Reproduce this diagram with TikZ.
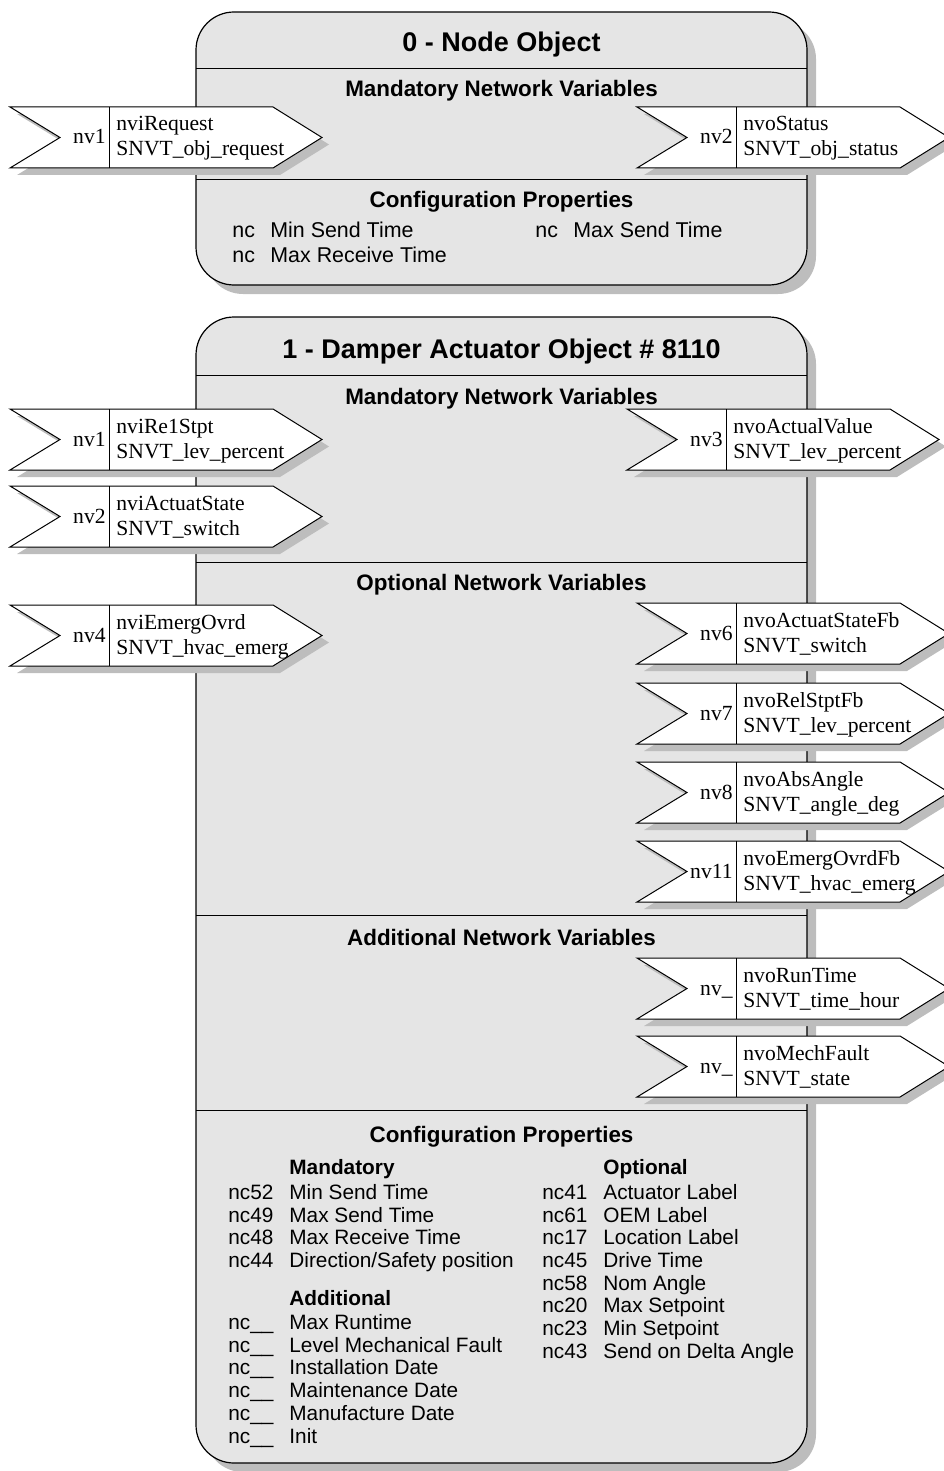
\documentclass[tikz,border=0pt]{standalone}
\usepackage{fontspec}
\setmainfont{Liberation Serif}
\setsansfont{Liberation Sans}
\definecolor{boxfill}{HTML}{E5E5E5}
\definecolor{shc}{HTML}{BDBDBD}
\tikzset{
  objbox/.style={draw=black, line width=0.6pt, fill=boxfill, rounded corners=19pt},
  objshadow/.style={fill=shc, rounded corners=19pt},
  sepline/.style={draw=black, line width=0.5pt},
  arrline/.style={draw=black, line width=0.5pt, fill=white},
  arrshadow/.style={fill=shc},
  nvlab/.style={anchor=base east, inner sep=0pt, font=\rmfamily\fontsize{10.8}{13}\selectfont},
  nvtxt/.style={anchor=base west, inner sep=0pt, font=\rmfamily\fontsize{10.8}{13}\selectfont},
  titletxt/.style={anchor=base, inner sep=0pt, font=\sffamily\bfseries\fontsize{13.5}{16}\selectfont},
  headtxt/.style={anchor=base, inner sep=0pt, font=\sffamily\bfseries\fontsize{11.2}{13}\selectfont},
  subhead/.style={anchor=base west, inner sep=0pt, font=\sffamily\bfseries\fontsize{10.4}{12}\selectfont},
  cptxt/.style={anchor=base west, inner sep=0pt, font=\sffamily\fontsize{10.4}{12}\selectfont},
  cptxtb/.style={anchor=base west, inner sep=0pt, font=\sffamily\fontsize{10.7}{12}\selectfont},
}
\newcommand{\nvarr}[6]{%
\begin{scope}[shift={(#2,#3)}]
 \fill[arrshadow] (7,7) -- (270,7) -- (319,37.5) -- (270,68) -- (7,68) -- (57,37.5) -- cycle;
 \draw[arrline] (0,0) -- (263,0) -- (312,30.5) -- (263,61) -- (0,61) -- (50,30.5) -- cycle;
 \draw[sepline] (99,0) -- (99,61);
 \node[nvlab] (#1-id) at (96,37) {#4};
 \node[nvtxt] (#1-n) at (106,24) {#5};
 \node[nvtxt] (#1-t) at (106,49) {#6};
\end{scope}}
\newcommand{\cprow}[6]{%
 \node[cptxt] (#1-nc) at (#2,#4) {#5};
 \node[cptxt] (#1-lb) at (#3,#4) {#6};}
\newcommand{\cprowb}[6]{%
 \node[cptxtb] (#1-nc) at (#2,#4) {#5};
 \node[cptxtb] (#1-lb) at (#3,#4) {#6};}
\begin{document}
\begin{tikzpicture}[x=0.5pt,y=-0.5pt]
\useasboundingbox (0,0) rectangle (943,1471);
% ---------------- Box 0 ----------------
\fill[objshadow] (205,21) rectangle (816,294);
\draw[objbox] (196,12) rectangle (807,285);
\draw[sepline] (196,69) -- (807,69);
\draw[sepline] (196,180) -- (807,180);
\node[titletxt] (t0) at (501.5,52) {0 - Node Object};
\node[headtxt] (h0a) at (501.5,97) {Mandatory Network Variables};
\node[headtxt] (h0b) at (501.5,208) {Configuration Properties};
\cprowb{c01}{232}{270}{238}{nc}{Min Send Time}
\cprowb{c02}{535}{573}{238}{nc}{Max Send Time}
\cprowb{c03}{232}{270}{263}{nc}{Max Receive Time}
% ---------------- Box 1 ----------------
\fill[objshadow] (205,326) rectangle (816,1472);
\draw[objbox] (196,317) rectangle (807,1463);
\draw[sepline] (196,375) -- (807,375);
\draw[sepline] (196,562) -- (807,562);
\draw[sepline] (196,915) -- (807,915);
\draw[sepline] (196,1110) -- (807,1110);
\node[titletxt] (t1) at (501.5,358) {1 - Damper Actuator Object \# 8110};
\node[headtxt] (h1a) at (501.5,404) {Mandatory Network Variables};
\node[headtxt] (h1b) at (501.5,590) {Optional Network Variables};
\node[headtxt] (h1c) at (501.5,945) {Additional Network Variables};
\node[headtxt] (h1d) at (501.5,1142) {Configuration Properties};
\node[subhead] (sm) at (289,1174) {Mandatory};
\node[subhead] (so) at (603,1174) {Optional};
\node[subhead] (sa) at (289,1305) {Additional};
\cprow{m1}{228}{289}{1199}{nc52}{Min Send Time}
\cprow{m2}{228}{289}{1222}{nc49}{Max Send Time}
\cprow{m3}{228}{289}{1244}{nc48}{Max Receive Time}
\cprow{m4}{228}{289}{1267}{nc44}{Direction/Safety position}
\cprow{a1}{228}{289}{1329}{nc\_\_}{Max Runtime}
\cprow{a2}{228}{289}{1352}{nc\_\_}{Level Mechanical Fault}
\cprow{a3}{228}{289}{1374}{nc\_\_}{Installation Date}
\cprow{a4}{228}{289}{1397}{nc\_\_}{Maintenance Date}
\cprow{a5}{228}{289}{1420}{nc\_\_}{Manufacture Date}
\cprow{a6}{228}{289}{1443}{nc\_\_}{Init}
\cprow{o1}{542}{603}{1199}{nc41}{Actuator Label}
\cprow{o2}{542}{603}{1222}{nc61}{OEM Label}
\cprow{o3}{542}{603}{1244}{nc17}{Location Label}
\cprow{o4}{542}{603}{1267}{nc45}{Drive Time}
\cprow{o5}{542}{603}{1290}{nc58}{Nom Angle}
\cprow{o6}{542}{603}{1312}{nc20}{Max Setpoint}
\cprow{o7}{542}{603}{1335}{nc23}{Min Setpoint}
\cprow{o8}{542}{603}{1358}{nc43}{Send on Delta Angle}
% ---------------- Arrows ----------------
\nvarr{b0nv1}{10}{107}{nv1}{nviRequest}{SNVT\_obj\_request}
\nvarr{b0nv2}{637}{107}{nv2}{nvoStatus}{SNVT\_obj\_status}
\nvarr{b1nv1}{10}{409}{nv1}{nviRe1Stpt}{SNVT\_lev\_percent}
\nvarr{b1nv3}{627}{409}{nv3}{nvoActualValue}{SNVT\_lev\_percent}
\nvarr{b1nv2}{10}{486}{nv2}{nviActuatState}{SNVT\_switch}
\nvarr{b1nv4}{10}{605}{nv4}{nviEmergOvrd}{SNVT\_hvac\_emerg}
\nvarr{b1nv6}{637}{603}{nv6}{nvoActuatStateFb}{SNVT\_switch}
\nvarr{b1nv7}{637}{683}{nv7}{nvoRelStptFb}{SNVT\_lev\_percent}
\nvarr{b1nv8}{637}{762}{nv8}{nvoAbsAngle}{SNVT\_angle\_deg}
\nvarr{b1nv11}{637}{841}{nv11}{nvoEmergOvrdFb}{SNVT\_hvac\_emerg}
\nvarr{b1nva}{637}{958}{nv\_}{nvoRunTime}{SNVT\_time\_hour}
\nvarr{b1nvb}{637}{1036}{nv\_}{nvoMechFault}{SNVT\_state}
\end{tikzpicture}
\end{document}
